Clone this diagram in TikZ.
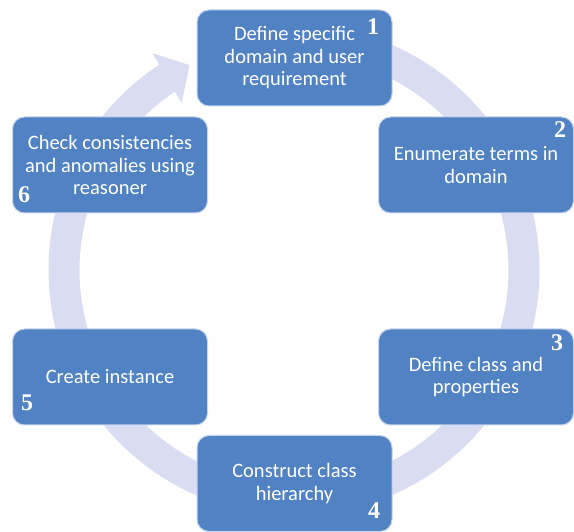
\documentclass[tikz,border=0pt]{standalone}
\usepackage{fontspec}
\setmainfont{Carlito}
\newfontfamily\numfont{Liberation Serif}
\usetikzlibrary{arrows.meta,bending}
\definecolor{boxblue}{RGB}{80,130,196}
\definecolor{ringc}{RGB}{218,220,242}
\definecolor{edgec}{RGB}{196,212,238}
\tikzset{
  stepbox/.style={rounded corners=12pt, fill=boxblue, draw=edgec, line width=1pt,
    minimum width=195pt, minimum height=96pt, text=white, align=center,
    font=\fontsize{20.5}{22.5}\selectfont, inner sep=0pt},
  numlabel/.style={text=white, font=\numfont\bfseries\fontsize{24}{24}\selectfont, inner sep=0pt},
  ring/.style={draw=ringc, line width=31pt}
}
\begin{document}
\begin{tikzpicture}[x=1pt,y=1pt]
\useasboundingbox (0,0) rectangle (574,532);
\fill[white] (0,0) rectangle (574,532);
\coordinate (c) at (294,262);
\draw[ring, -{Triangle[width=56pt,length=26pt,flex]}] (c) ++(95:230pt) arc[start angle=95, end angle=-243, radius=230pt];
\node[stepbox] (s1) at (294.5,474) {Define specific\\domain and user\\requirement};
\node[stepbox] (s2) at (476,367) {Enumerate terms in\\domain};
\node[stepbox] (s3) at (476,155) {Define class and\\properties};
\node[stepbox] (s4) at (294.5,48.5) {Construct class\\hierarchy};
\node[stepbox] (s5) at (110,155) {Create instance};
\node[stepbox] (s6) at (110,367) {Check consistencies\\and anomalies using\\reasoner};
\node[numlabel] (n1) at (373,505) {1};
\node[numlabel] (n2) at (560,402) {2};
\node[numlabel] (n3) at (557,189) {3};
\node[numlabel] (n4) at (374,21) {4};
\node[numlabel] (n5) at (27,129) {5};
\node[numlabel] (n6) at (24,337) {6};
\end{tikzpicture}
\end{document}
